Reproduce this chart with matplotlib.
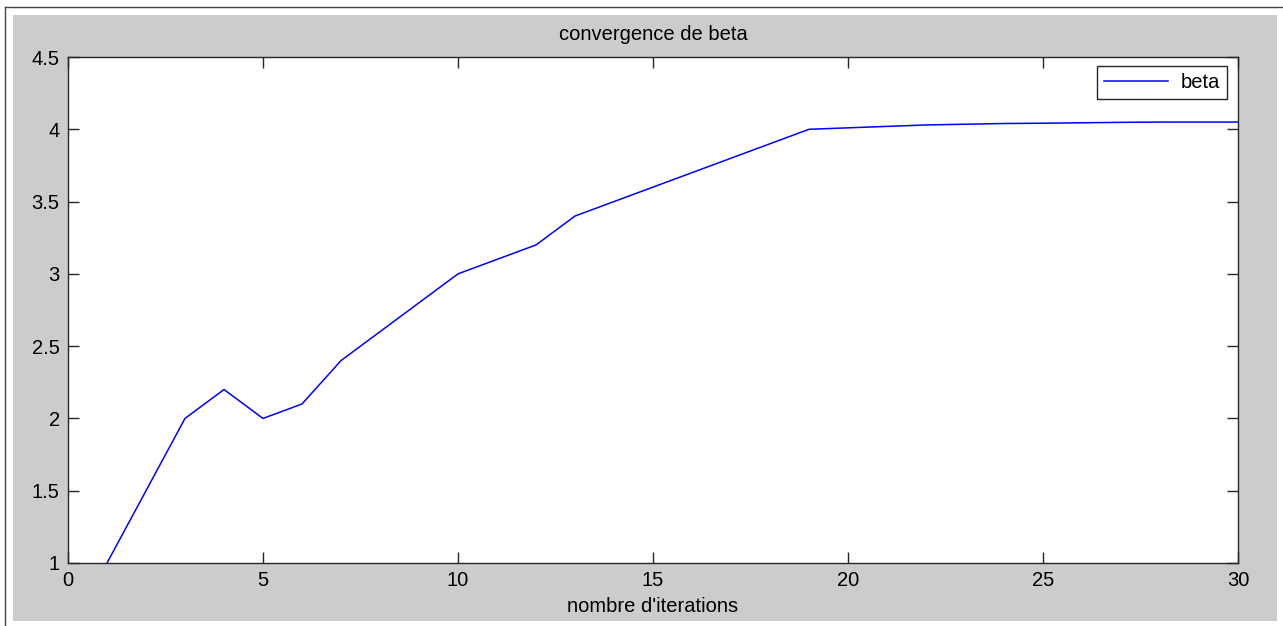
import matplotlib.pyplot as plt
from matplotlib.patches import Rectangle
from matplotlib.lines import Line2D

# beta estimate at each iteration
iterations = list(range(1, 31))
beta = [1.0, 1.5, 2.0, 2.2, 2.0, 2.1, 2.4, 2.6, 2.8, 3.0,
        3.1, 3.2, 3.4, 3.5, 3.6, 3.7, 3.8, 3.9, 4.0, 4.01,
        4.02, 4.03, 4.035, 4.04, 4.042, 4.045, 4.048, 4.05, 4.05, 4.05]

x_ticks = [0, 5, 10, 15, 20, 25, 30]
y_ticks = [1, 1.5, 2, 2.5, 3, 3.5, 4, 4.5]
y_tick_labels = ["1", "1.5", "2", "2.5", "3", "3.5", "4", "4.5"]

plt.rcParams.update({
    "font.family": ["Liberation Sans", "DejaVu Sans"],
    "font.size": 14.5,
    "axes.titlesize": 14.5,
    "axes.linewidth": 1.0,
    "axes.edgecolor": "#262626",
})

W, H = 1283, 626
fig = plt.figure(figsize=(W / 100, H / 100), dpi=100, facecolor="white")

# grey figure panel and thin window frame (behind the axes)
fig.patches.append(Rectangle((13 / W, 1 - 621 / H), (1277 - 13) / W, (621 - 15) / H,
                             transform=fig.transFigure, facecolor="#cccccc",
                             edgecolor="none", zorder=-2))
fig.lines.append(Line2D([4.5 / W, 4.5 / W], [0, 1 - 6.5 / H], transform=fig.transFigure,
                        color="#444444", linewidth=1.0, zorder=-1))
fig.lines.append(Line2D([4.5 / W, 1], [1 - 6.5 / H, 1 - 6.5 / H], transform=fig.transFigure,
                        color="#444444", linewidth=1.0, zorder=-1))

ax = fig.add_axes([68 / W, 1 - 563 / H, (1238 - 68) / W, (563 - 57) / H])
ax.set_facecolor("white")
ax.plot(iterations, beta, color="#0000ff", linewidth=1.1, label="beta")

ax.set_xlim(0, 30)
ax.set_ylim(1, 4.5)
ax.set_xticks(x_ticks)
ax.set_yticks(y_ticks)
ax.set_yticklabels(y_tick_labels)
ax.tick_params(direction="in", length=8, width=1.0, top=True, right=True,
               color="#262626", labelcolor="black", pad=6)

ax.set_title("convergence de beta", y=1 + 22 / 506, pad=0, va="center")
ax.set_xlabel("nombre d'iterations", va="center")
ax.xaxis.set_label_coords(0.5, -43 / 506)

leg = ax.legend(loc="upper right", bbox_to_anchor=(1 - 11 / 1170, 1 - 9 / 506),
                fancybox=False, framealpha=1, edgecolor="#262626",
                handlelength=3.2, borderaxespad=0, handletextpad=0.6,
                borderpad=0.35)
leg.get_frame().set_linewidth(1.0)

fig.savefig("out.png", dpi=100, facecolor="white")
